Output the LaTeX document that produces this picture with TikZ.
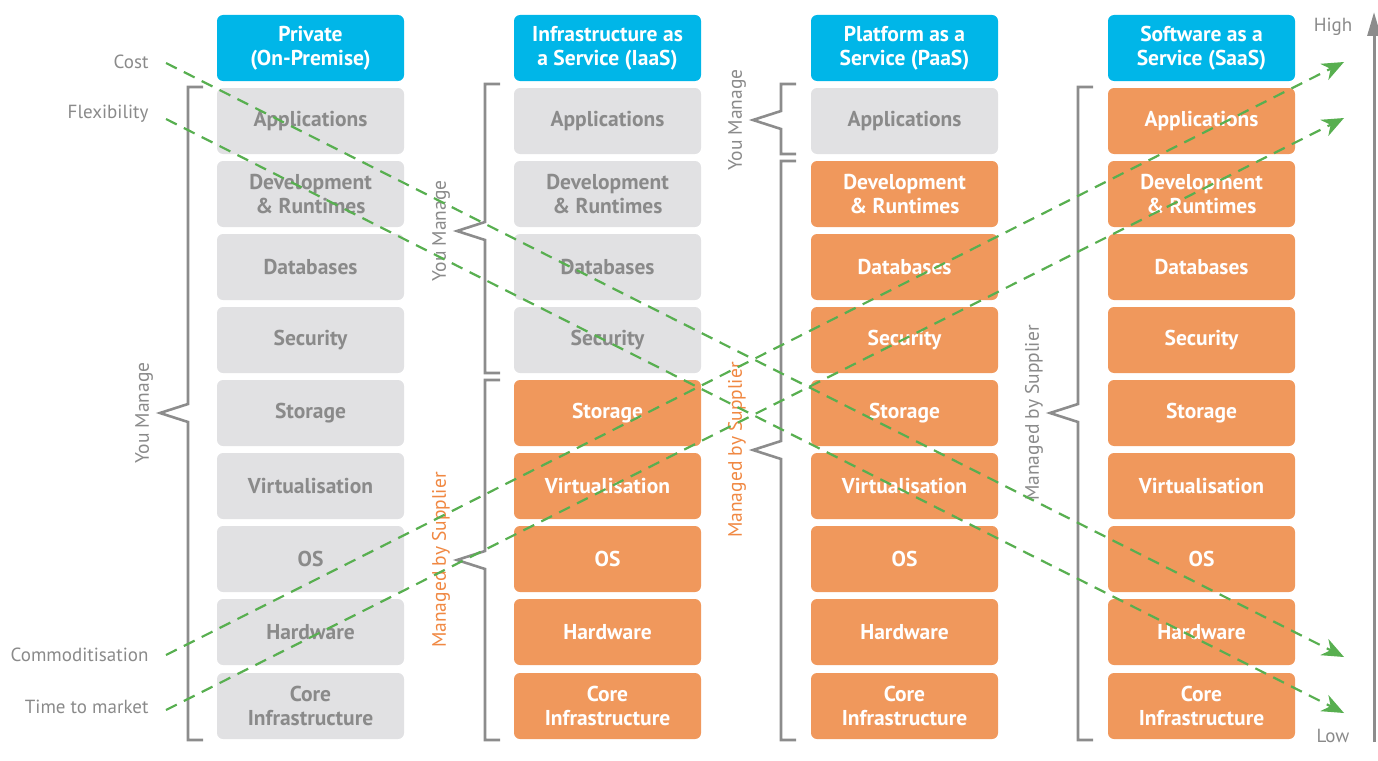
\documentclass[tikz,border=0pt]{standalone}
\usepackage{fontspec}
\setmainfont{PT Sans}
\usetikzlibrary{arrows.meta}
\definecolor{hblue}{RGB}{0,182,232}
\definecolor{borange}{RGB}{240,152,92}
\definecolor{bgray}{RGB}{225,225,227}
\definecolor{tgray}{RGB}{138,138,138}
\definecolor{lgray}{RGB}{140,140,140}
\definecolor{dgreen}{RGB}{88,175,80}
\definecolor{lorange}{RGB}{240,136,66}
\tikzset{
  cell/.style={minimum width=187pt, minimum height=66pt, rounded corners=6pt, inner sep=0pt,
    font=\bfseries\fontsize{21.5}{24}\selectfont, align=center},
  hdr/.style={cell, fill=hblue, text=white},
  gbox/.style={cell, fill=bgray, text=tgray},
  obox/.style={cell, fill=borange, text=white},
  brc/.style={draw=lgray, line width=2.6pt},
  vlab/.style={rotate=90, font=\fontsize{19.5}{22}\selectfont},
  sidelab/.style={anchor=east, text=tgray, font=\fontsize{19}{22}\selectfont},
  gdash/.style={draw=dgreen, line width=2.2pt, dash pattern=on 12pt off 8pt,
    -{Stealth[length=22pt,width=18pt,inset=7pt]}},
}
\newcommand{\mybrace}[4]{% x, ytop, ybot, ymid
  \draw[brc] (#1+15,#2) -- (#1,#2) -- (#1,#4-9) -- (#1-28,#4) -- (#1,#4+9) -- (#1,#3) -- (#1+15,#3);}
\begin{document}
\begin{tikzpicture}[x=1pt,y=-1pt]
\useasboundingbox (0,0) rectangle (1378,760);
% headers
\node[hdr] (h1) at (310.5,48) {Private\\(On-Premise)};
\node[hdr] (h2) at (607.5,48) {Infrastructure as\\a Service (IaaS)};
\node[hdr] (h3) at (904.5,48) {Platform as a\\Service (PaaS)};
\node[hdr] (h4) at (1201.5,48) {Software as a\\Service (SaaS)};
% column 1
\node[gbox] (a1) at (310.5,121) {Applications};
\node[gbox] (b1) at (310.5,194) {Development\\\& Runtimes};
\node[gbox] (c1) at (310.5,267) {Databases};
\node[gbox] (d1) at (310.5,340) {Security};
\node[gbox] (e1) at (310.5,413) {Storage};
\node[gbox] (f1) at (310.5,486) {Virtualisation};
\node[gbox] (g1) at (310.5,559) {OS};
\node[gbox] (i1) at (310.5,632) {Hardware};
\node[gbox] (j1) at (310.5,706) {Core\\Infrastructure};
% column 2
\node[gbox] (a2) at (607.5,121) {Applications};
\node[gbox] (b2) at (607.5,194) {Development\\\& Runtimes};
\node[gbox] (c2) at (607.5,267) {Databases};
\node[gbox] (d2) at (607.5,340) {Security};
\node[obox] (e2) at (607.5,413) {Storage};
\node[obox] (f2) at (607.5,486) {Virtualisation};
\node[obox] (g2) at (607.5,559) {OS};
\node[obox] (i2) at (607.5,632) {Hardware};
\node[obox] (j2) at (607.5,706) {Core\\Infrastructure};
% column 3
\node[gbox] (a3) at (904.5,121) {Applications};
\node[obox] (b3) at (904.5,194) {Development\\\& Runtimes};
\node[obox] (c3) at (904.5,267) {Databases};
\node[obox] (d3) at (904.5,340) {Security};
\node[obox] (e3) at (904.5,413) {Storage};
\node[obox] (f3) at (904.5,486) {Virtualisation};
\node[obox] (g3) at (904.5,559) {OS};
\node[obox] (i3) at (904.5,632) {Hardware};
\node[obox] (j3) at (904.5,706) {Core\\Infrastructure};
% column 4
\node[obox] (a4) at (1201.5,121) {Applications};
\node[obox] (b4) at (1201.5,194) {Development\\\& Runtimes};
\node[obox] (c4) at (1201.5,267) {Databases};
\node[obox] (d4) at (1201.5,340) {Security};
\node[obox] (e4) at (1201.5,413) {Storage};
\node[obox] (f4) at (1201.5,486) {Virtualisation};
\node[obox] (g4) at (1201.5,559) {OS};
\node[obox] (i4) at (1201.5,632) {Hardware};
\node[obox] (j4) at (1201.5,706) {Core\\Infrastructure};
% braces
\mybrace{188}{87}{740}{413}
\mybrace{485}{84}{373}{231}
\mybrace{485}{380}{740}{560}
\mybrace{781}{84}{154}{120}
\mybrace{781}{161}{740}{450}
\mybrace{1078}{87}{740}{413}
% brace labels
\node[vlab, text=tgray] (l1) at (144,413) {You Manage};
\node[vlab, text=tgray] (l2) at (441,231) {You Manage};
\node[vlab, text=lorange] (l3) at (441,560) {Managed by Supplier};
\node[vlab, text=tgray] (l4) at (737,120) {You Manage};
\node[vlab, text=lorange] (l5) at (737,450) {Managed by Supplier};
\node[vlab, text=tgray] (l6) at (1034,413) {Managed by Supplier};
% axis
\coordinate (axb) at (1374,742);
\coordinate (axt) at (1374,12);
\draw[draw=lgray, line width=3pt, -{Triangle[length=24pt,width=13pt]}] (axb) -- (axt);
\node[text=tgray, font=\fontsize{19}{22}\selectfont] (high) at (1333,27) {High};
\node[text=tgray, font=\fontsize{19}{22}\selectfont] (low) at (1333,736) {Low};
% side labels
\node[sidelab] (cost) at (152,62) {Cost};
\node[sidelab] (flex) at (152,114) {Flexibility};
\node[sidelab] (comm) at (152,655) {Commoditisation};
\node[sidelab] (ttm) at (152,707) {Time to market};
\coordinate (s1) at (166,63);   \coordinate (e1c) at (1344,657);
\coordinate (s2) at (166,119);  \coordinate (e2c) at (1344,713);
\coordinate (s3) at (166,655);  \coordinate (e3c) at (1344,62);
\coordinate (s4) at (166,710);  \coordinate (e4c) at (1344,118);
\draw[gdash] (s1) -- (e1c);
\draw[gdash] (s2) -- (e2c);
\draw[gdash] (s3) -- (e3c);
\draw[gdash] (s4) -- (e4c);
\end{tikzpicture}
\end{document}
